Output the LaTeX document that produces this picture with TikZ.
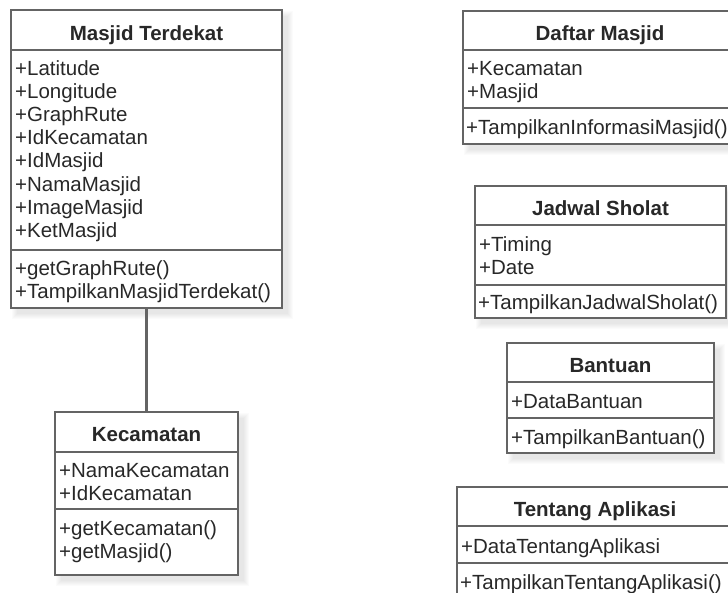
\documentclass[tikz,border=0pt]{standalone}
\usepackage{fontspec}
\setmainfont{Liberation Sans}
\definecolor{framecol}{RGB}{100,100,100}
\definecolor{inkcol}{RGB}{40,40,40}

% A UML class frame: name, left, top, right, bottom, first divider, second divider
\newcommand{\classframe}[7]{%
  \foreach \k in {0,...,5}
    \fill[black, opacity=0.016] ({#2+6-\k},{#3+6-\k}) rectangle ({#4+6+\k},{#5+6+\k});
  \node[classbox, minimum width={#4-#2}, minimum height={#5-#3}, anchor=north west] (#1) at (#2,#3) {};
  \draw[divider] (#2,#6) coordinate (#1-d1l) -- (#4,#6) coordinate (#1-d1r);
  \draw[divider] (#2,#7) coordinate (#1-d2l) -- (#4,#7) coordinate (#1-d2r);
}
% Members of a compartment: name prefix, x, first baseline, list of entries
\newcommand{\classmembers}[4]{%
  \foreach \t [count=\i] in {#4}
    \node[member] (#1\i) at (#2,{#3+23.2*(\i-1)}) {\t};
}

\begin{document}
\begin{tikzpicture}[x=1pt, y=-1pt,
  classbox/.style={draw=framecol, line width=2.4pt, fill=white, inner sep=0pt, outer sep=0pt},
  divider/.style={draw=framecol, line width=2.4pt},
  member/.style={anchor=base west, inner sep=0pt, text=inkcol, font=\fontsize{20.5}{23}\selectfont},
  classname/.style={anchor=base, inner sep=0pt, text=inkcol, font=\fontsize{20.5}{23}\selectfont\bfseries},
  link/.style={draw=framecol, line width=2.6pt}]
\useasboundingbox (0,0) rectangle (728,592);
\fill[white] (0,0) rectangle (728,592);
\clip (0,0) rectangle (728,592);

% Masjid Terdekat
\classframe{mt}{11}{10}{282}{308}{50}{250}
\node[classname] (mt-t) at (146.5,40) {Masjid Terdekat};
\classmembers{mt-a}{15}{75}{+Latitude,+Longitude,+GraphRute,+IdKecamatan,+IdMasjid,+NamaMasjid,+ImageMasjid,+KetMasjid}
\classmembers{mt-m}{15}{275}{+getGraphRute(),+TampilkanMasjidTerdekat()}

% Kecamatan
\classframe{kc}{55}{412}{238}{575}{452}{509}
\node[classname] (kc-t) at (146.5,441) {Kecamatan};
\classmembers{kc-a}{59}{477}{+NamaKecamatan,+IdKecamatan}
\classmembers{kc-m}{59}{535}{+getKecamatan(),+getMasjid()}

% association between the two classes
\draw[link] (mt.south) -- (kc.north);

% Daftar Masjid
\classframe{dm}{463}{11}{737}{144}{50}{108}
\node[classname] (dm-t) at (600,40) {Daftar Masjid};
\classmembers{dm-a}{467}{75}{+Kecamatan,+Masjid}
\classmembers{dm-m}{466}{134}{+TampilkanInformasiMasjid()}

% Jadwal Sholat
\classframe{js}{475}{186}{726}{318}{225}{285}
\node[classname] (js-t) at (600.5,215) {Jadwal Sholat};
\classmembers{js-a}{479}{251}{+Timing,+Date}
\classmembers{js-m}{478}{309}{+TampilkanJadwalSholat()}

% Bantuan
\classframe{bt}{507}{343}{714}{453}{382}{418}
\node[classname] (bt-t) at (610.5,372) {Bantuan};
\classmembers{bt-a}{511}{408}{+DataBantuan}
\classmembers{bt-m}{511}{444}{+TampilkanBantuan()}

% Tentang Aplikasi
\classframe{ta}{457}{487}{733}{600}{526}{563}
\node[classname] (ta-t) at (595,516) {Tentang Aplikasi};
\classmembers{ta-a}{461}{553}{+DataTentangAplikasi}
\classmembers{ta-m}{460}{589}{+TampilkanTentangAplikasi()}
\end{tikzpicture}
\end{document}
